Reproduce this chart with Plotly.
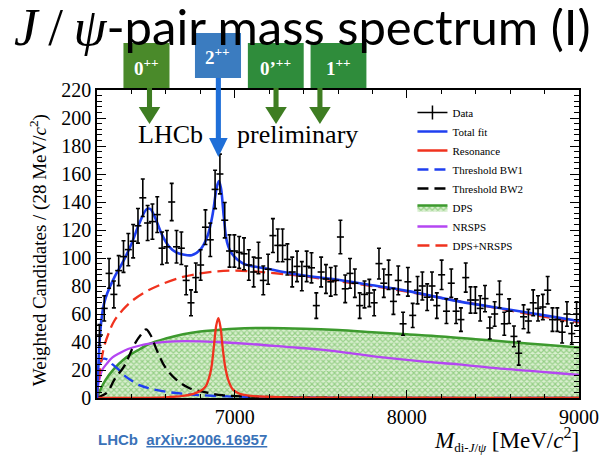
import plotly.graph_objects as go

# ---------------- data ----------------
mass_lo, bin_w = 6200, 28
counts = [45, 64, 89, 74, 91, 101, 106, 112, 123, 143,
          125, 126, 131, 107, 108, 140, 108, 107, 84, 68,
          86, 95, 122, 113, 149, 160, 127, 105, 105, 104,
          103, 95, 90, 100, 84, 92, 116, 109, 109, 99,
          90, 94, 87, 94, 93, 66, 90, 85, 83, 84,
          115, 78, 89, 82, 66, 74, 75, 68, 96, 82,
          88, 69, 84, 53, 83, 59, 77, 80, 72, 80,
          66, 88, 62, 82, 62, 56, 86, 70, 70, 64,
          71, 50, 60, 74, 53, 62, 44, 32, 58, 55,
          68, 64, 65, 77, 56, 56, 47, 60, 46, 60]
errors = [7.5, 9.0, 10.6, 9.6, 10.7, 11.3, 11.5, 11.9, 12.4, 13.4,
          12.5, 12.6, 12.8, 11.6, 11.6, 13.3, 11.6, 11.6, 10.3, 9.2,
          10.4, 10.9, 12.4, 11.9, 13.7, 14.2, 12.6, 11.5, 11.5, 11.4,
          11.4, 10.9, 10.6, 11.2, 10.3, 10.7, 12.1, 11.7, 11.7, 11.1,
          10.6, 10.9, 10.4, 10.9, 10.8, 9.1, 10.6, 10.3, 10.2, 10.3,
          12.0, 9.9, 10.6, 10.1, 9.1, 9.6, 9.7, 9.2, 11.0, 10.1,
          10.5, 9.3, 10.3, 8.2, 10.2, 8.6, 9.8, 10.0, 9.5, 10.0,
          9.1, 10.5, 8.8, 10.1, 8.8, 8.4, 10.4, 9.4, 9.4, 9.0,
          9.4, 7.9, 8.7, 9.6, 8.2, 8.8, 7.4, 8.5, 8.5, 8.3,
          9.2, 9.0, 9.0, 9.8, 8.4, 8.4, 7.7, 8.7, 7.6, 8.7]
bin_centers = [mass_lo + bin_w / 2 + bin_w * i for i in range(len(counts))]

total_m = [6200, 6205, 6210, 6217, 6225, 6240, 6260, 6300, 6350, 6400, 6450, 6490, 6510,
           6540, 6580, 6620, 6660, 6700, 6750, 6800, 6840, 6870, 6895, 6908, 6920, 6937,
           6956, 6984, 7050, 7183, 7372, 7600, 7800, 8000, 8300, 8600, 8800, 9000]
total_v = [0, 15, 28, 44, 55, 67, 75, 86, 97, 110, 126, 135, 135,
           128, 116, 108, 104, 102.5, 102, 106, 115, 130, 150, 155, 150, 129,
           111, 103, 96, 92.5, 88, 84.5, 80.5, 76.5, 69, 63, 59, 55]

res_m = [6200, 6600, 6700, 6760, 6800, 6830, 6850, 6865, 6880, 6893, 6905, 6918,
         6930, 6945, 6965, 6990, 7030, 7100, 7300, 7600, 9000]
res_v = [0, 0.5, 1.5, 3, 5, 8, 14, 22, 38, 52, 57, 50,
         36, 22, 12, 6, 3, 1.5, 0.5, 0.2, 0.1]

bw1_m = [6200, 6205, 6215, 6235, 6260, 6290, 6320, 6360, 6400, 6450, 6500, 6600,
         6700, 6800, 7000, 7500, 9000]
bw1_v = [0, 15, 24, 28, 27.5, 24, 21, 16, 12.5, 9, 7, 4.5, 3, 2, 1, 0.3, 0]

bw2_m = [6200, 6217, 6260, 6300, 6359, 6416, 6454, 6485, 6511, 6548, 6596, 6662,
         6738, 6833, 6928, 7100, 7400, 9000]
bw2_v = [0, 1, 4, 13, 23, 38, 45, 49, 45, 34, 22, 13, 7, 4, 2, 1, 0.3, 0]

dps_m = [6200, 6220, 6250, 6300, 6350, 6400, 6450, 6500, 6600, 6700, 6800, 6900,
         7000, 7200, 7400, 7600, 7800, 8000, 8200, 8400, 8600, 8800, 9000]
dps_v = [0, 6, 13, 21, 27, 31.5, 35, 38.5, 42.5, 45.5, 47.5, 48.5,
         49.5, 50, 49.5, 48.5, 47, 45.5, 44, 42, 40, 38, 36]

nrsps_m = [6200, 6205, 6215, 6230, 6260, 6290, 6330, 6380, 6450, 6550, 6650, 6800,
           6900, 7100, 7300, 7500, 7700, 7900, 8100, 8300, 8500, 8700, 8900, 9000]
nrsps_v = [0, 8, 14, 20, 25, 29, 32, 35, 37.5, 39.5, 40.5, 40.5,
           40, 38.5, 36.5, 34.5, 31.5, 28.5, 26, 24, 21.5, 19.5, 17.5, 16.5]

sum_m = [6200, 6215, 6240, 6270, 6300, 6350, 6400, 6470, 6570, 6700, 6800, 6900,
         7000, 7100, 7200, 7400, 7600, 7800, 8000, 8200, 8400, 8600, 8800, 9000]
sum_v = [0, 18, 36, 47, 55, 63, 69, 75, 81, 86.5, 89, 90.5,
         91, 90.5, 89.5, 87, 83.5, 80, 76, 71.5, 67, 62.5, 58, 54]

state_labels = ["0<sup>++</sup>", "2<sup>++</sup>", "0’<sup>++</sup>", "1<sup>++</sup>"]
state_mass = [6505, 6905, 7240, 7495]

# ---------------- layout helpers ----------------
OFF = 8                      # page body margin of the browser
W, H = 611 - OFF, 459 - OFF
L, R, T, B = 97, 589, 90, 398   # plot frame in reference pixels
X0, X1 = 6200, 9000


def px(xp):
    return (xp - L) / (R - L)


def py(yp):
    return (B - yp) / (B - T)


serif = "Liberation Serif"
blue = "#1f3ff0"
red = "#f0321e"
green = "#3d9a2e"
purple = "#b446f2"

fig = go.Figure()

# DPS (hatched)
fig.add_trace(go.Scatter(
    x=dps_m, y=dps_v, mode="lines", name="DPS", line=dict(color=green, width=2.5, shape="spline"),
    fill="tozeroy", fillcolor="rgba(255,255,255,0)",
    fillpattern=dict(shape="x", fgcolor="#54b040", bgcolor="#d9efcf", size=4, solidity=0.5),
    legendrank=6))
fig.add_trace(go.Scatter(x=nrsps_m, y=nrsps_v, mode="lines", name="NRSPS",
                         line=dict(color=purple, width=2.3, shape="spline"), legendrank=7))
fig.add_trace(go.Scatter(x=bw1_m, y=bw1_v, mode="lines", name="Threshold BW1",
                         line=dict(color=blue, width=2.3, dash="11px,6px", shape="spline"), legendrank=4))
fig.add_trace(go.Scatter(x=bw2_m, y=bw2_v, mode="lines", name="Threshold BW2",
                         line=dict(color="black", width=2.3, dash="11px,6px", shape="spline"), legendrank=5))
fig.add_trace(go.Scatter(x=res_m, y=res_v, mode="lines", name="Resonance",
                         line=dict(color=red, width=2.3, shape="spline"), legendrank=3))
fig.add_trace(go.Scatter(x=sum_m, y=sum_v, mode="lines", name="DPS+NRSPS",
                         line=dict(color=red, width=2.3, dash="12px,6px", shape="spline"), legendrank=8))
fig.add_trace(go.Scatter(x=total_m, y=total_v, mode="lines", name="Total fit",
                         line=dict(color=blue, width=2.6, shape="spline"), legendrank=2))
# data points
fig.add_trace(go.Scatter(
    x=bin_centers, y=counts, mode="markers", name="Data", showlegend=False,
    marker=dict(symbol="line-ew", size=5, color="black", line=dict(color="black", width=1.6)),
    error_y=dict(type="data", array=errors, color="black", thickness=1.6, width=2)))
# legend entry for data
fig.add_trace(go.Scatter(
    x=[None], y=[None], mode="lines+markers", name="Data", legendrank=1,
    line=dict(color="black", width=1.5),
    marker=dict(symbol="line-ns", size=10, color="black", line=dict(color="black", width=1.5))))

axis_common = dict(showline=True, linecolor="black", linewidth=1.5, mirror="ticks",
                   ticks="inside", tickcolor="black", tickwidth=1.2, showgrid=False, zeroline=False,
                   tickfont=dict(family=serif, size=20, color="black"))
fig.update_xaxes(range=[X0, X1], tickmode="linear", tick0=7000, dtick=1000, ticklen=8,
                 minor=dict(ticks="inside", ticklen=4, dtick=200, tick0=6200, tickcolor="black", showgrid=False),
                 **axis_common)
fig.update_yaxes(range=[0, 220], tickmode="linear", tick0=0, dtick=20, ticklen=9,
                 minor=dict(ticks="inside", ticklen=5, dtick=4, tickcolor="black", showgrid=False),
                 **axis_common)

ann = []
# title
ann.append(dict(xref="paper", yref="paper", x=px(10), y=py(27), xanchor="left", yanchor="middle",
                showarrow=False,
                text='<span style="font-family:Liberation Serif;font-size:53px"><i>J</i>\u2009/\u2009<i>ψ</i></span>-pair mass spectrum (I)',
                font=dict(family="Lato", size=49, color="black")))
# LHCb preliminary
ann.append(dict(xref="x", yref="y", x=6427, y=188, xanchor="left", yanchor="middle", showarrow=False,
                text="LHCb", font=dict(family=serif, size=26, color="black")))
ann.append(dict(xref="x", yref="y", x=7002, y=188, xanchor="left", yanchor="middle", showarrow=False,
                text="preliminary", font=dict(family=serif, size=26, color="black")))
# axis titles
ann.append(dict(xref="paper", yref="paper", x=px(38), y=py(250), xanchor="center", yanchor="middle",
                showarrow=False, textangle=-90,
                text="Weighted Candidates / (28 MeV/<i>c</i><sup>2</sup>)",
                font=dict(family=serif, size=19, color="black")))
ann.append(dict(xref="paper", yref="paper", x=px(591), y=py(439), xanchor="right", yanchor="middle",
                showarrow=False,
                text='<i>M</i><sub><span style="font-size:13px">di-<i>J</i>/<i>ψ</i></span></sub> [MeV/<i>c</i><sup>2</sup>]',
                font=dict(family=serif, size=23, color="black")))
# reference
ann.append(dict(xref="paper", yref="paper", x=px(96), y=py(439), xanchor="left", yanchor="middle",
                showarrow=False,
                text="<b>LHCb</b>  <b><u>arXiv:2006.16957</u></b>",
                font=dict(family="Liberation Sans", size=15, color="#3a72b8")))

# state boxes and arrows (decoration)
boxes = [  # left, right, top, bottom (reference px), colour, arrow colour, arrow tip (px)
    (124, 171, 43, 88, "#4a8a2a", "#3e7d22", 124),
    (197, 244, 33, 78, "#3b7cc0", "#1f6fd8", 157),
    (251, 308, 43, 88, "#2f8c3b", "#3e7d22", 124),
    (315, 372, 43, 88, "#2f8c3b", "#3e7d22", 124),
]
shapes = []
for (bl, br, bt, bb, bc, ac, tip), lab, m in zip(boxes, state_labels, state_mass):
    xc = L + (m - X0) / (X1 - X0) * (R - L)
    head_h = 17 if tip < 140 else 19
    head_w = 11 if tip < 140 else 9.5
    shapes.append(dict(type="rect", xref="paper", yref="paper", x0=px(xc - 2.6), x1=px(xc + 2.6),
                       y0=py(tip - head_h + 1), y1=py(bb), fillcolor=ac, line=dict(width=0), layer="above"))
    path = "M {},{} L {},{} L {},{} Z".format(px(xc - head_w), py(tip - head_h), px(xc + head_w),
                                               py(tip - head_h), px(xc), py(tip))
    shapes.append(dict(type="path", xref="paper", yref="paper", path=path, fillcolor=ac,
                       line=dict(width=0), layer="above"))
    shapes.append(dict(type="rect", xref="paper", yref="paper", x0=px(bl), x1=px(br), y0=py(bb), y1=py(bt),
                       fillcolor=bc, line=dict(width=0), layer="above"))
    ann.append(dict(xref="paper", yref="paper", x=px((bl + br) / 2), y=py((bt + bb) / 2 + 1),
                    xanchor="center", yanchor="middle", showarrow=False,
                    text="<b>" + lab + "</b>", font=dict(family=serif, size=19, color="white")))

fig.update_layout(
    width=W, height=H, margin=dict(l=L - OFF, r=611 - R, t=T - OFF, b=459 - B),
    paper_bgcolor="white", plot_bgcolor="white",
    annotations=ann, shapes=shapes,
    legend=dict(x=px(419), y=py(98), xanchor="left", yanchor="top", bgcolor="rgba(0,0,0,0)",
                font=dict(family=serif, size=11, color="black"), itemwidth=30, tracegroupgap=0),
)

fig.write_html("out.html")
